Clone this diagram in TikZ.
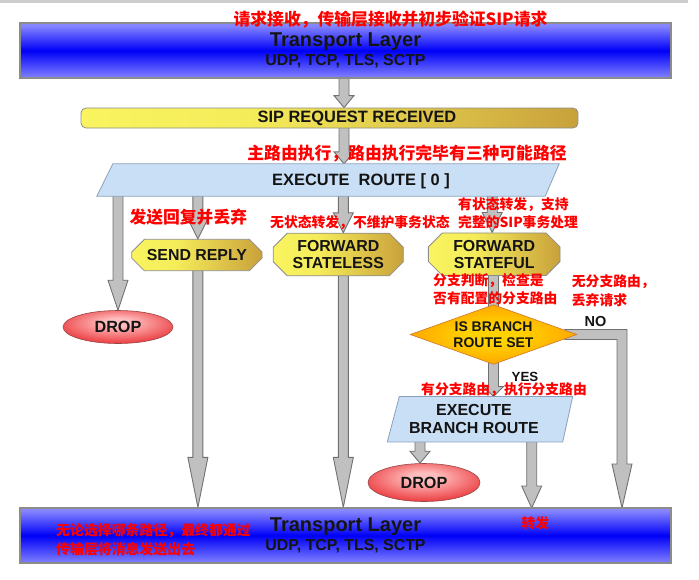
\documentclass[tikz,border=0pt]{standalone}
\usepackage{fontspec}
\setmainfont{Liberation Sans}
\newfontfamily\cjk{Noto Sans CJK SC}
\usetikzlibrary{shapes.geometric,shapes.misc,calc}
\pgfdeclarelayer{arrows}
\pgfdeclarelayer{shapes}
\pgfsetlayers{arrows,shapes,main}
\definecolor{arrfill}{RGB}{192,192,192}
\definecolor{arrline}{RGB}{112,112,112}
\definecolor{boxline}{RGB}{140,140,140}
\definecolor{txt}{RGB}{20,20,20}
\definecolor{bla}{RGB}{232,232,255}
\definecolor{blb}{RGB}{130,130,255}
\definecolor{blc}{RGB}{0,0,248}
\definecolor{bld}{RGB}{195,195,255}
\definecolor{ya}{RGB}{255,255,105}
\definecolor{yb}{RGB}{245,236,90}
\definecolor{yc}{RGB}{205,168,62}
\definecolor{yd}{RGB}{145,98,40}
\definecolor{pfill}{RGB}{200,223,246}
\definecolor{pline}{RGB}{140,160,185}
\definecolor{dropin}{RGB}{255,190,190}
\definecolor{dropout}{RGB}{230,25,30}
\definecolor{dropline}{RGB}{150,70,70}
\definecolor{diain}{RGB}{255,210,0}
\definecolor{diamid}{RGB}{255,160,0}
\definecolor{diaout}{RGB}{255,85,0}
\definecolor{dialine}{RGB}{205,120,40}
\definecolor{topline}{RGB}{205,205,205}
\pgfdeclareverticalshading{bluesh}{100bp}{color(0bp)=(bla); color(25bp)=(blb); color(50bp)=(blc); color(72bp)=(blb); color(100bp)=(bld)}
\pgfdeclarehorizontalshading{ysh}{100bp}{color(0bp)=(ya); color(42bp)=(yb); color(72bp)=(yc); color(100bp)=(yd)}
\pgfdeclareradialshading{dropsh}{\pgfpoint{0bp}{8bp}}{color(0bp)=(dropin); color(6bp)=(dropin); color(36bp)=(dropout); color(70bp)=(dropout)}
\pgfdeclareradialshading{diash}{\pgfpoint{0bp}{0bp}}{color(0bp)=(diain); color(8bp)=(diain); color(28bp)=(diamid); color(50bp)=(diaout); color(72bp)=(diaout)}
\newcommand\barrow[3]{\draw[blockarr] let \p1=#2, \p2=#3 in (\x2-5pt,\y1) -- (\x2-5pt,\y2+#1) -- (\x2-10pt,\y2+#1) -- (\x2,\y2) -- (\x2+10pt,\y2+#1) -- (\x2+5pt,\y2+#1) -- (\x2+5pt,\y1) -- cycle;}
\newcommand\bshaft[2]{\draw[blockarr] let \p1=#1, \p2=#2 in (\x2-5pt,\y1) rectangle (\x2+5pt,\y2);}
\begin{document}
\begin{tikzpicture}[x=1pt,y=-1pt,
  blockarr/.style={fill=arrfill,draw=arrline,line width=0.9pt,line join=miter},
  tbox/.style={rectangle,draw=boxline,line width=1.3pt,shade,shading=bluesh,minimum width=651pt,minimum height=55pt,inner sep=0pt,align=center,text=txt,font=\bfseries\fontsize{15.9}{18.3}\selectfont},
  ybox/.style={chamfered rectangle,chamfered rectangle xsep=7pt,chamfered rectangle ysep=7pt,draw=boxline,line width=0.8pt,shade,shading=ysh,inner sep=0pt,align=center,text=txt,font=\bfseries\fontsize{15.9}{17.3}\selectfont},
  pbox/.style={fill=pfill,draw=pline,line width=0.8pt},
  dropbox/.style={ellipse,draw=dropline,line width=0.6pt,shade,shading=dropsh,inner sep=0pt,text=txt,font=\bfseries\fontsize{16.2}{18}\selectfont},
  lbl/.style={inner sep=0pt,text=txt,align=center},
  rbig/.style={inner sep=0pt,text=red,font=\cjk\bfseries\fontsize{16.8}{18}\selectfont},
  rsml/.style={inner sep=0pt,text=red,align=left,font=\cjk\bfseries\fontsize{13.8}{18.5}\selectfont},
]
\useasboundingbox (0,0) rectangle (699,579);
\fill[topline] (0,0) rectangle (688,2.5);

% nodes
\node[tbox] (top) at (345.5,50.5) {{\fontsize{20}{18.3}\selectfont Transport Layer}\\[1pt]UDP, TCP, TLS, SCTP};
\node[rectangle,draw=boxline,line width=0.8pt,rounded corners=5pt,shade,shading=ysh,minimum width=497pt,minimum height=20pt,inner sep=0pt,text=txt,font=\bfseries\fontsize{16.4}{18}\selectfont] (sip) at (329.5,118) {\hspace*{55pt}SIP REQUEST RECEIVED};
\node[lbl,minimum width=448pt,minimum height=32pt,text depth=0pt,font=\bfseries\fontsize{16.4}{18}\selectfont] (er) at (361,180) {EXECUTE\hspace{0.55em}ROUTE [ 0 ]};
\node[ybox,minimum width=130.3pt,minimum height=31.4pt] (sr) at (196.9,255) {SEND REPLY};
\node[ybox,minimum width=130pt,minimum height=34.4pt] (fsl) at (338.3,254.5) {FORWARD\\STATELESS};
\node[ybox,minimum width=131.7pt,minimum height=35pt] (fsf) at (494.2,254.2) {FORWARD\\STATEFUL};
\node[dropbox,minimum width=110pt,minimum height=33pt] (drop1) at (118,327) {DROP};
\node[lbl,minimum width=166pt,minimum height=59pt,font=\bfseries\fontsize{14}{15.7}\selectfont] (dia) at (493.5,334.5) {IS BRANCH\\ROUTE SET};
\node[lbl,minimum width=173pt,minimum height=45pt,font=\bfseries\fontsize{16}{18.3}\selectfont] (ebr) at (474,419.2) {EXECUTE\\BRANCH ROUTE};
\node[dropbox,minimum width=112pt,minimum height=38pt] (drop2) at (424,482.5) {DROP};
\node[tbox] (bot) at (345.5,535.5) {{\fontsize{20}{18.4}\selectfont Transport Layer}\\[1pt]UDP, TCP, TLS, SCTP};
\coordinate (fwd) at (531.7,508);
\coordinate (nodst) at (622,508);

% shapes drawn from the text nodes
\begin{pgfonlayer}{shapes}
\draw[pbox] ([xshift=-24pt]er.north west) -- ([xshift=-26pt]er.north east) -- ([xshift=-40pt]er.south east) -- ([xshift=-40pt]er.south west) -- cycle;
\draw[pbox] ([xshift=12pt]ebr.north west) -- ([xshift=12pt]ebr.north east) -- ([xshift=2pt]ebr.south east) -- ([xshift=0pt]ebr.south west) -- cycle;
\path[draw=dialine,line width=0.6pt,shade,shading=diash] (dia.north) -- (dia.east) -- (dia.south) -- (dia.west) -- cycle;
\end{pgfonlayer}

% connectors
\begin{pgfonlayer}{arrows}
\barrow{12pt}{([xshift=-1.5pt]top.center)}{([xshift=-1.5pt]top.south |- sip.north)}
\barrow{12pt}{([xshift=-1.5pt]top.south |- sip.center)}{([xshift=-1.5pt]top.south |- er.north)}
\barrow{30pt}{(drop1.north |- er.center)}{(drop1.north)}
\barrow{20pt}{([xshift=1pt]sr.north |- er.center)}{([xshift=1pt]sr.north)}
\barrow{20pt}{([xshift=5pt]fsl.north |- er.center)}{([xshift=5pt]fsl.north)}
\barrow{20pt}{([xshift=-2pt]fsf.north |- er.center)}{([xshift=-2pt]fsf.north)}
\barrow{50pt}{([xshift=1pt]sr.center)}{([xshift=1pt]sr.south |- bot.north)}
\barrow{50pt}{([xshift=5pt]fsl.center)}{([xshift=5pt]fsl.south |- bot.north)}
\bshaft{(dia.center |- fsf.center)}{(dia.center)}
\barrow{10pt}{(dia.center)}{(dia.south |- ebr.north)}
\barrow{12pt}{([xshift=-4pt]drop2.north |- ebr.center)}{([xshift=-4pt]drop2.north)}
\barrow{22pt}{(fwd |- ebr.center)}{(fwd)}
\draw[blockarr] let \p1=(dia.east), \p2=(nodst) in (\x1-12pt,\y1+5pt) -- (\x2+5pt,\y1+5pt) -- (\x2+5pt,\y2+44pt) -- (\x2+10pt,\y2+44pt) -- (\x2,\y2) -- (\x2-10pt,\y2+44pt) -- (\x2-5pt,\y2+44pt) -- (\x2-5pt,\y1-5pt) -- (\x1-12pt,\y1-5pt) -- cycle;
\end{pgfonlayer}

% connector labels
\node[lbl,font=\bfseries\fontsize{14.5}{16}\selectfont] (no) at (595.5,321.7) {NO};
\node[lbl,font=\bfseries\fontsize{13.3}{15}\selectfont] (yes) at (525,376.5) {YES};

% annotations
\node[rbig] (n1) at (390.5,19.5) {请求接收，传输层接收并初步验证SIP请求};
\node[rbig] (n2) at (407,154) {主路由执行，路由执行完毕有三种可能路径};
\node[rbig,anchor=west] (n3) at (129.3,216.7) {发送回复并丢弃};
\node[rsml,anchor=west] (n4) at (270,222.7) {无状态转发，不维护事务状态};
\node[rsml,anchor=west] (n5) at (458,213.3) {有状态转发，支持\\完整的SIP事务处理};
\node[rsml,anchor=west] (n6) at (433,289.2) {分支判断，检查是\\否有配置的分支路由};
\node[rsml,anchor=west] (n7) at (571.7,290.8) {无分支路由，\\丢弃请求};
\node[rsml] (n8) at (504,390) {有分支路由，执行分支路由};
\node[rsml,anchor=west,font=\cjk\bfseries\fontsize{13.9}{19.5}\selectfont] (n9) at (56,539.5) {无论选择哪条路径，最终都通过\\传输层将消息发送出去};
\node[rsml] (n10) at (535.4,523) {转发};
\end{tikzpicture}
\end{document}
